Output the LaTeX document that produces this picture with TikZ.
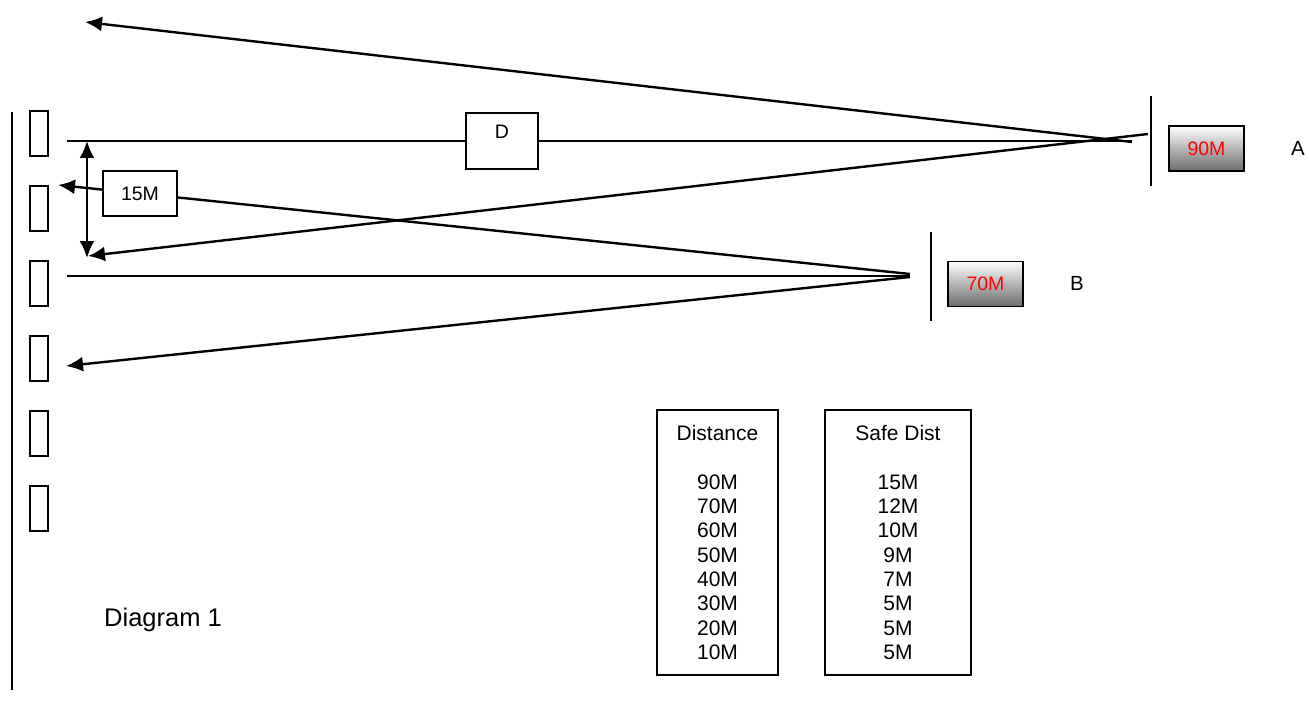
\documentclass[tikz,border=0pt]{standalone}
\usepackage{fontspec}
\setmainfont{Liberation Sans}
\usepackage{xcolor}
\usepackage{tikz}
\usetikzlibrary{positioning}
\usetikzlibrary{arrows.meta}
\tikzset{edge/.style = {->,> = {Latex[length=17pt,width=15pt]}, line width=2.4pt}}

\begin{document}
\begin{tikzpicture}[x=1pt,y=-1pt,thin line/.style={line width=1.3pt},
    slot/.style={draw,line width=1.6pt,minimum width=18pt,minimum height=45pt,inner sep=0pt},
    label box/.style={draw,fill=white,line width=1.6pt,inner sep=0pt,font=\fontsize{19.5}{22}\selectfont},
    range box/.style={draw,line width=1.6pt,inner sep=0pt,minimum width=75pt,minimum height=45pt,top color=white,bottom color=black!58,text=red,font=\fontsize{19.5}{22}\selectfont},
    table box/.style={draw,line width=1.6pt,minimum height=265pt,align=center,font=\fontsize{21}{24.3}\selectfont}]
                \useasboundingbox (0,0) rectangle (1309,706);

                % wall and targets
                \draw[line width=2pt] (12,112) -- (12,690);
                \foreach \i in {1,...,6}
                    \node[slot] (s\i) at (39,{58.5+75*\i}) {};

                % firing points
                \coordinate (l1w) at (67,141);
                \coordinate (l1e) at (1132,141);
                \coordinate (l2w) at (67,276);
                \coordinate (l2e) at (910,276);
                \coordinate (pa1) at (1151,96);
                \coordinate (pa2) at (1151,186);
                \coordinate (pb1) at (931,232);
                \coordinate (pb2) at (931,321);
                \draw[line width=2pt] (pa1) -- (pa2);
                \draw[line width=2pt] (pb1) -- (pb2);

                \node[label box,minimum width=72pt,minimum height=56pt,text depth=18pt] (d) at (502,141) {D};
                \node[label box,minimum width=74pt,minimum height=45pt] (safe) at (140,193.5) {15M};
                \node[range box] (ra) at (1206.5,148.5) {90M};
                \node[range box] (rb) at (985.5,284) {70M};
                \node[font=\fontsize{20.5}{24}\selectfont] (a) at (1298,148) {A};
                \node[font=\fontsize{20.5}{24}\selectfont] (b) at (1077,283) {B};

                \draw[thin line] (l1w) -- (d) -- (l1e);
                \draw[thin line] (l2w) -- (l2e);

                % shots
                \coordinate (a1) at (1132,142);
                \coordinate (a2) at (1148,134);
                \coordinate (b1) at (910,274);
                \coordinate (b2) at (910,277);
                \coordinate (t1) at (85,22);
                \coordinate (t2) at (88,256);
                \coordinate (t3) at (58,185);
                \coordinate (t4) at (66,366);
                \coordinate (v1) at (87,141);
                \coordinate (v2) at (87,258);

                \draw[edge] (a1) -- (t1);
                \draw[edge] (a2) -- (t2);
                \draw[line width=2.4pt] (b1) -- (safe);
                \draw[edge] (safe) -- (t3);
                \draw[edge] (b2) -- (t4);
                \draw[edge,<->] (v1) -- (v2);

                % tables
                \node[table box,minimum width=121pt] (dtab) at (717.5,542.5)
                    {Distance\\[24.3pt]90M\\70M\\60M\\50M\\40M\\30M\\20M\\10M};
                \node[table box,minimum width=146pt] (stab) at (898,542.5)
                    {Safe Dist\\[24.3pt]15M\\12M\\10M\\9M\\7M\\5M\\5M\\5M};

                \node[font=\fontsize{25.5}{30}\selectfont] (cap) at (163,620) {Diagram 1};
            \end{tikzpicture}
\end{document}
